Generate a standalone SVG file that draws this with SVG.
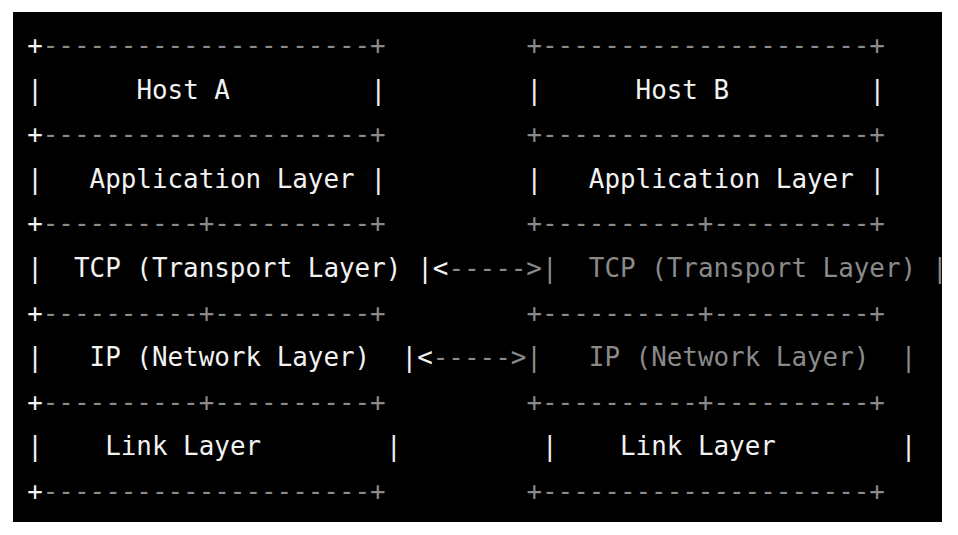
<svg xmlns="http://www.w3.org/2000/svg" width="958" height="535" viewBox="0 0 958 535">
<style>
text{font-family:"DejaVu Sans Mono","Liberation Mono",monospace;font-size:25.9px;white-space:pre}
.w{fill:#f2f2f2}
.g{fill:#8a8a8a}
</style>
<defs>
<clipPath id="screen"><rect x="13" y="12" width="929" height="510"/></clipPath>
</defs>
<rect x="0" y="0" width="958" height="535" fill="#ffffff"/>
<rect x="13" y="12" width="929" height="510" fill="#000000"/>
<g clip-path="url(#screen)">
<g id="hostA">
<text x="27.2" y="54" xml:space="preserve"><tspan class="w">+</tspan><tspan class="g">---------------------+</tspan></text>
<text class="w" x="27.2" y="98.6">|</text>
<text class="w" x="136.4" y="98.6">Host A</text>
<text class="w" x="370.4" y="98.6">|</text>
<text x="27.2" y="143.2" xml:space="preserve"><tspan class="w">+</tspan><tspan class="g">---------------------+</tspan></text>
<g id="hostA-app">
<text class="w" x="27.2" y="187.8">|</text>
<text class="w" x="89.6" y="187.8">Application Layer</text>
<text class="w" x="370.4" y="187.8">|</text>
</g>
<text x="27.2" y="232.4" xml:space="preserve"><tspan class="w">+</tspan><tspan class="g">----------+----------+</tspan></text>
<g id="hostA-tcp">
<text class="w" x="27.2" y="277">|</text>
<text class="w" x="74" y="277">TCP (Transport Layer)</text>
</g>
<text x="27.2" y="321.6" xml:space="preserve"><tspan class="w">+</tspan><tspan class="g">----------+----------+</tspan></text>
<g id="hostA-ip">
<text class="w" x="27.2" y="366.2">|</text>
<text class="w" x="89.6" y="366.2">IP (Network Layer)</text>
</g>
<text x="27.2" y="410.8" xml:space="preserve"><tspan class="w">+</tspan><tspan class="g">----------+----------+</tspan></text>
<g id="hostA-link">
<text class="w" x="27.2" y="455.4">|</text>
<text class="w" x="105.2" y="455.4">Link Layer</text>
<text class="w" x="386" y="455.4">|</text>
</g>
<text x="27.2" y="500" xml:space="preserve"><tspan class="w">+</tspan><tspan class="g">---------------------+</tspan></text>
</g>
<g id="hostB">
<text class="g" x="526.4" y="54">+---------------------+</text>
<text class="w" x="526.4" y="98.6">|</text>
<text class="w" x="635.6" y="98.6">Host B</text>
<text class="w" x="869.6" y="98.6">|</text>
<text class="g" x="526.4" y="143.2">+---------------------+</text>
<g id="hostB-app">
<text class="w" x="526.4" y="187.8">|</text>
<text class="w" x="588.8" y="187.8">Application Layer</text>
<text class="w" x="869.6" y="187.8">|</text>
</g>
<text class="g" x="526.4" y="232.4">+----------+----------+</text>
<g id="hostB-tcp">
<text class="g" x="588.8" y="277">TCP (Transport Layer)</text>
<text class="g" x="932" y="277">|</text>
</g>
<text class="g" x="526.4" y="321.6">+----------+----------+</text>
<g id="hostB-ip">
<text class="g" x="588.8" y="366.2">IP (Network Layer)</text>
<text class="g" x="900.8" y="366.2">|</text>
</g>
<text class="g" x="526.4" y="410.8">+----------+----------+</text>
<g id="hostB-link">
<text class="w" x="542" y="455.4">|</text>
<text class="w" x="620" y="455.4">Link Layer</text>
<text class="w" x="900.8" y="455.4">|</text>
</g>
<text class="g" x="526.4" y="500">+---------------------+</text>
</g>
<g id="connectors">
<text x="417.2" y="277" xml:space="preserve"><tspan class="w">|&lt;</tspan><tspan class="g">-----&gt;|</tspan></text>
<text x="401.6" y="366.2" xml:space="preserve"><tspan class="w">|&lt;</tspan><tspan class="g">-----&gt;|</tspan></text>
</g>
</g>
</svg>
